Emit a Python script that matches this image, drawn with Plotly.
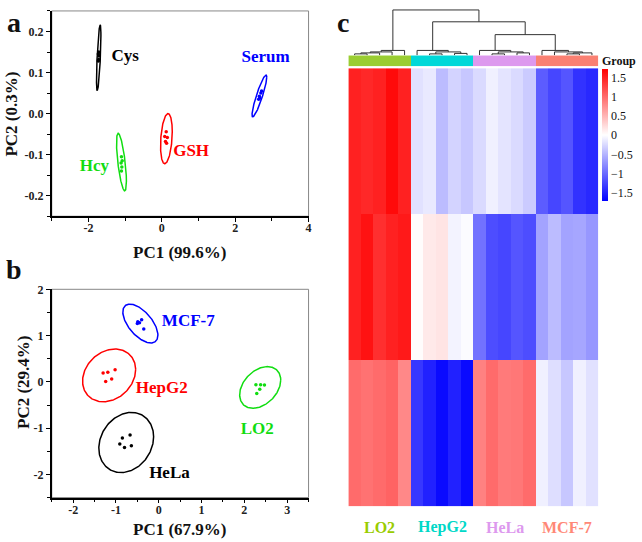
import numpy as np
import plotly.graph_objects as go

W, H = 642, 542
FONT = "Liberation Serif"

# ---------------- Panel a data ----------------
a_groups = ["Cys", "Serum", "GSH", "Hcy"]
a_colors = ["#000000", "#0000ff", "#ff0000", "#11dd11"]
a_pts_x = [[-1.72, -1.73, -1.72, -1.73, -1.71],
           [2.72, 2.70, 2.66, 2.64, 2.67],
           [0.12, 0.08, 0.15, 0.10, 0.13],
           [-1.10, -1.08, -1.11, -1.09, -1.10]]
a_pts_y = [[0.150, 0.145, 0.132, 0.128, 0.140],
           [0.055, 0.050, 0.042, 0.035, 0.038],
           [-0.044, -0.056, -0.058, -0.068, -0.072],
           [-0.105, -0.115, -0.120, -0.130, -0.140]]
# ellipse: center x, center y, half x-extent, half y-extent, phase (tilt)
a_ell = [(-1.72, 0.136, 0.06, 0.080, 0.84),
         (2.66, 0.043, 0.20, 0.051, 0.45),
         (0.125, -0.061, 0.16, 0.061, 1.29),
         (-1.10, -0.118, 0.135, 0.070, 2.30)]
a_lab_x = [-1.0, 2.83, 0.8, -1.84]
a_lab_y = [0.138, 0.136, -0.092, -0.13]

# ---------------- Panel b data ----------------
b_groups = ["MCF-7", "HepG2", "HeLa", "LO2"]
b_colors = ["#0000ff", "#ff0000", "#000000", "#11dd11"]
b_pts_x = [[-0.49, -0.40, -0.50, -0.35, -0.45],
           [-1.30, -1.19, -1.02, -1.24, -1.10],
           [-0.85, -0.67, -0.91, -0.80, -0.64],
           [2.27, 2.38, 2.47, 2.36, 2.29]]
b_pts_y = [[1.30, 1.34, 1.26, 1.14, 1.28],
           [0.19, 0.21, 0.26, 0.01, 0.06],
           [-1.21, -1.15, -1.34, -1.42, -1.38],
           [-0.06, -0.06, -0.07, -0.16, -0.25]]
b_ell = [(-0.43, 1.26, 0.41, 0.42, 2.21),
         (-1.16, 0.14, 0.62, 0.57, 1.35),
         (-0.76, -1.31, 0.64, 0.65, 1.38),
         (2.37, -0.12, 0.48, 0.45, 1.21)]
b_lab_x = [0.69, 0.07, 0.25, 2.30]
b_lab_y = [1.29, -0.15, -1.99, -1.04]

# ---------------- Panel c data ----------------
hm_groups = ["LO2", "HepG2", "HeLa", "MCF-7"]
hm_group_colors = ["#9acd32", "#00d8d8", "#dd99ee", "#fa8072"]
hm_label_colors = ["#99cc00", "#00d8c8", "#dd99ee", "#ff8877"]
reps = 5
hm_values = [
    [1.50, 1.45, 1.50, 1.65, 1.50, -0.20, -0.15, -0.45, -0.30, -0.38,
     -0.25, -0.10, -0.18, -0.25, -0.35, -1.10, -1.25, -1.15, -1.38, -1.45],
    [1.50, 1.60, 1.40, 1.50, 1.55, 0.02, 0.15, 0.18, -0.08, -0.03,
     -0.95, -1.20, -1.25, -1.15, -1.20, -0.62, -0.45, -0.62, -0.60, -0.70],
    [1.00, 0.95, 1.00, 1.05, 0.80, -1.35, -1.50, -1.65, -1.50, -1.65,
     0.85, 1.00, 0.90, 0.92, 1.00, -0.10, -0.22, -0.38, -0.10, -0.20],
]
cb_ticks = [-1.5, -1, -0.5, 0, 0.5, 1, 1.5]
cb_text = ["\u22121.5", "\u22121", "\u22120.5", "0", "0.5", "1", "1.5"]
# dendrogram (nested: (left, right, height)); leaves are column indices
lo2_tree = ((((0, 1, 1.5), 2, 2.5), 3, 3.5), 4, 5)
hepg2_tree = (5, ((6, 7, 1.5), (8, 9, 2.0), 3.5), 5)
hela_tree = (10, ((11, 12, 1.5), (13, 14, 2.5), 3.5), 5)
mcf7_tree = (15, (16, ((17, 18, 1.5), 19, 2.5), 3.5), 5)
dendro = (lo2_tree, (hepg2_tree, (hela_tree, mcf7_tree, 21), 34), 46)


def ellipse(cx, cy, rx, ry, ph, n=200):
    t = np.linspace(0, 2 * np.pi, n)
    return cx + rx * np.cos(t), cy + ry * np.cos(t + ph)


def dendro_lines(node, xs, ys):
    if isinstance(node, int):
        return float(node), 0.0
    l, r, h = node
    xl, hl = dendro_lines(l, xs, ys)
    xr, hr = dendro_lines(r, xs, ys)
    xs += [xl, xl, xr, xr, None]
    ys += [hl, h, h, hr, None]
    return (xl + xr) / 2, h


fig = go.Figure()

bold = dict(family=FONT, weight="bold")

# panel a
for i, g in enumerate(a_groups):
    ex, ey = ellipse(*a_ell[i])
    fig.add_trace(go.Scatter(x=ex, y=ey, mode="lines", line=dict(color=a_colors[i], width=1.5),
                             xaxis="x", yaxis="y", showlegend=False, hoverinfo="skip"))
    fig.add_trace(go.Scatter(x=a_pts_x[i], y=a_pts_y[i], mode="markers",
                             marker=dict(color=a_colors[i], size=3.5), xaxis="x", yaxis="y",
                             showlegend=False))
    fig.add_trace(go.Scatter(x=[a_lab_x[i]], y=[a_lab_y[i]], mode="text", text=[g],
                             textfont=dict(color=a_colors[i], size=17, **bold),
                             xaxis="x", yaxis="y", showlegend=False))

# panel b
for i, g in enumerate(b_groups):
    ex, ey = ellipse(*b_ell[i])
    fig.add_trace(go.Scatter(x=ex, y=ey, mode="lines", line=dict(color=b_colors[i], width=1.5),
                             xaxis="x2", yaxis="y2", showlegend=False, hoverinfo="skip"))
    fig.add_trace(go.Scatter(x=b_pts_x[i], y=b_pts_y[i], mode="markers",
                             marker=dict(color=b_colors[i], size=3.5), xaxis="x2", yaxis="y2",
                             showlegend=False))
    fig.add_trace(go.Scatter(x=[b_lab_x[i]], y=[b_lab_y[i]], mode="text", text=[g],
                             textfont=dict(color=b_colors[i], size=17, **bold),
                             xaxis="x2", yaxis="y2", showlegend=False))

# panel c heatmap
ncol = len(hm_values[0])
fig.add_trace(go.Heatmap(
    z=hm_values, x=list(range(ncol)), y=list(range(len(hm_values))),
    colorscale=[[0, "#0000ff"], [0.5, "#ffffff"], [1, "#ff0000"]],
    zmin=-1.72, zmax=1.72, xaxis="x3", yaxis="y3",
    colorbar=dict(x=605 / W, xanchor="left", y=1 - 63 / H, yanchor="top",
                  thickness=6, len=132, lenmode="pixels", outlinewidth=0,
                  xpad=0, ypad=0, ticks="", tickvals=cb_ticks, ticktext=cb_text,
                  tickfont=dict(family=FONT, size=12, color="#111")),
))
grp_idx = [[gi for gi in range(len(hm_groups)) for _ in range(reps)]]
n = len(hm_groups)
disc = []
for gi, c in enumerate(hm_group_colors):
    disc += [[gi / n, c], [(gi + 1) / n, c]]
fig.add_trace(go.Heatmap(z=grp_idx, x=list(range(ncol)), y=[0], colorscale=disc,
                         zmin=-0.5, zmax=n - 0.5, showscale=False,
                         xaxis="x4", yaxis="y4"))
dx, dy = [], []
dendro_lines(dendro, dx, dy)
fig.add_trace(go.Scatter(x=dx, y=dy, mode="lines", line=dict(color="#333333", width=1),
                         xaxis="x5", yaxis="y5", showlegend=False, hoverinfo="skip"))


def px_dom_x(a, b):
    return [a / W, b / W]


def px_dom_y(top, bot):
    return [1 - bot / H, 1 - top / H]


tickfont = dict(family=FONT, size=12, color="#222", weight="bold")
common = dict(showline=True, linecolor="black", linewidth=1.5, ticks="outside",
              ticklen=4, tickwidth=1.2, tickcolor="black", showgrid=False,
              zeroline=False, tickfont=tickfont)

a_xt = [-2, 0, 2, 4]
a_yt = [-0.2, -0.1, 0.0, 0.1, 0.2]
b_xt = [-2, -1, 0, 1, 2, 3]
b_yt = [-2, -1, 0, 1, 2]

fig.update_layout(
    width=W, height=H, margin=dict(l=0, r=0, t=0, b=0),
    paper_bgcolor="white", plot_bgcolor="white",
    xaxis=dict(domain=px_dom_x(52, 310), range=[-3, 4], anchor="y", ticklabelstandoff=-4,
               tickvals=a_xt, ticktext=[str(v) for v in a_xt],
               minor=dict(tickmode="linear", tick0=-3, dtick=1, ticklen=3, ticks="outside",
                          tickcolor="black"), **common),
    yaxis=dict(domain=px_dom_y(4, 212), range=[-0.25, 0.25], anchor="x",
               tickvals=a_yt, ticktext=["%.1f" % v for v in a_yt],
               minor=dict(tickmode="linear", tick0=0, dtick=0.05, ticklen=3, ticks="outside",
                          tickcolor="black"), **common),
    xaxis2=dict(domain=px_dom_x(52, 310), range=[-2.5, 3.5], anchor="y2", ticklabelstandoff=-4,
                tickvals=b_xt, ticktext=[str(v) for v in b_xt],
                minor=dict(tickmode="linear", tick0=0, dtick=0.5, ticklen=3, ticks="outside",
                           tickcolor="black"), **common),
    yaxis2=dict(domain=px_dom_y(286, 497), range=[-2.5, 2], anchor="x2",
                tickvals=b_yt, ticktext=[str(v) for v in b_yt],
                minor=dict(tickmode="linear", tick0=0, dtick=0.5, ticklen=3, ticks="outside",
                           tickcolor="black"), **common),
    xaxis3=dict(domain=px_dom_x(350, 601), range=[-0.5, ncol - 0.5], anchor="y3",
                showticklabels=False, showgrid=False, zeroline=False, ticks=""),
    yaxis3=dict(domain=px_dom_y(62, 506), range=[len(hm_values) - 0.5, -0.5], anchor="x3",
                showticklabels=False, showgrid=False, zeroline=False, ticks=""),
    xaxis4=dict(domain=px_dom_x(350, 601), range=[-0.5, ncol - 0.5], anchor="y4",
                showticklabels=False, showgrid=False, zeroline=False, ticks=""),
    yaxis4=dict(domain=px_dom_y(49, 60), range=[-0.5, 0.5], anchor="x4",
                showticklabels=False, showgrid=False, zeroline=False, ticks=""),
    xaxis5=dict(domain=px_dom_x(350, 601), range=[-0.5, ncol - 0.5], anchor="y5",
                showticklabels=False, showgrid=False, zeroline=False, ticks=""),
    yaxis5=dict(domain=px_dom_y(2, 49), range=[0, 47], anchor="x5",
                showticklabels=False, showgrid=False, zeroline=False, ticks=""),
    shapes=[
        dict(type="rect", xref="x domain", yref="y domain", x0=0, x1=1, y0=0, y1=1,
             line=dict(color="#888", width=1), layer="below"),
        dict(type="rect", xref="x2 domain", yref="y2 domain", x0=0, x1=1, y0=0, y1=1,
             line=dict(color="#888", width=1), layer="below"),
    ],
)

ann = []


def add_text(x, y, text, size, color="#111", angle=0, weight="bold", xanchor="center"):
    ann.append(dict(x=x / W, y=1 - y / H, xref="paper", yref="paper", text=text,
                    showarrow=False, textangle=angle, xanchor=xanchor, yanchor="middle",
                    font=dict(family=FONT, size=size, color=color, weight=weight)))


add_text(14, 16, "a", 28)
add_text(14, 266, "b", 28)
add_text(345, 16, "c", 28)
add_text(180, 249, "PC1 (99.6%)", 17)
add_text(12, 108, "PC2 (0.3%)", 17, angle=-90)
add_text(180, 529, "PC1 (67.9%)", 17)
add_text(23, 380, "PC2 (29.4%)", 17, angle=-90)
add_text(603, 55, "Group", 12, xanchor="left")
for gi, g in enumerate(hm_groups):
    ann.append(dict(x=gi * reps + (reps - 1) / 2, y=1 - 527 / H, xref="x3", yref="paper",
                    text=g, showarrow=False, yanchor="middle",
                    font=dict(family=FONT, size=16, color=hm_label_colors[gi], weight="bold")))
fig.update_layout(annotations=ann)

fig.write_html("out.html")
